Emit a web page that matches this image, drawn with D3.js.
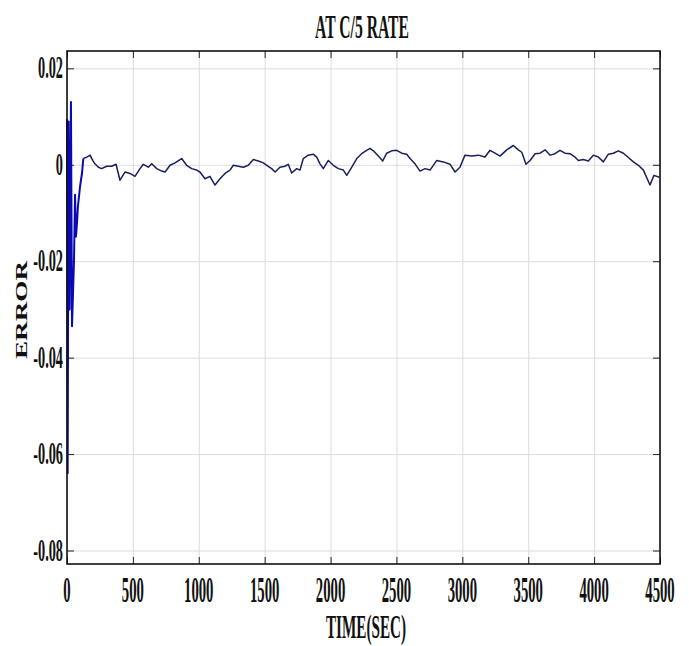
<!DOCTYPE html>
<html>
<head>
<meta charset="utf-8">
<script src="https://cdn.jsdelivr.net/npm/d3@7"></script>
<style>
  body { margin: 0; background: #fff; }
  svg { display: block; }
  text { font-family: "Liberation Serif", "Times New Roman", serif; font-weight: bold; fill: #111; }
</style>
</head>
<body>
<div id="chart"></div>
<script>
// tick labels
var xTicks = [0, 500, 1000, 1500, 2000, 2500, 3000, 3500, 4000, 4500];
var yTicks = [0.02, 0, -0.02, -0.04, -0.06, -0.08];
var yTickLabels = ["0.02", "0", "-0.02", "-0.04", "-0.06", "-0.08"];

// start-up transient (sec, error)
var tStart = [0, 5, 12, 20, 30, 38, 53, 61, 68, 76, 83, 99, 114, 124];
var eStart = [0.0095, -0.064, 0.009, -0.030, 0.013, -0.0335, -0.020, -0.0062, -0.0149, -0.012, -0.0086, -0.0045, -0.0017, 0.0013];

// settled error (sec, error)
var tRun = [124, 150, 175, 195, 212, 238, 263, 301, 339, 372, 402, 440, 478, 516, 554, 579, 617, 643, 681, 719,
  744, 782, 820, 870, 908, 946, 984, 1009, 1047, 1085, 1123, 1161, 1199, 1237, 1262, 1300, 1338, 1376, 1414, 1452,
  1490, 1516, 1553, 1579, 1616, 1654, 1679, 1705, 1743, 1768, 1793, 1831, 1869, 1895, 1920, 1945, 1983, 2021, 2059, 2097,
  2123, 2161, 2199, 2236, 2274, 2300, 2325, 2363, 2396, 2426, 2464, 2502, 2540, 2578, 2603, 2641, 2679, 2717, 2755, 2806,
  2856, 2907, 2945, 2982, 3020, 3071, 3121, 3172, 3210, 3248, 3286, 3337, 3387, 3425, 3451, 3483, 3514, 3552, 3590, 3628,
  3666, 3703, 3741, 3779, 3817, 3855, 3880, 3918, 3956, 3994, 4032, 4070, 4108, 4146, 4184, 4222, 4260, 4298, 4336, 4374,
  4424, 4454, 4495];
var eRun = [0.0013, 0.0016, 0.0020, 0.0009, 0.0002, -0.0005, -0.0008, -0.0003, -0.0003, 0.0001, -0.0032, -0.0015, -0.0018, -0.0024, -0.0008, 0.0001, -0.0005, 0.0002, -0.0008, -0.0013,
  -0.0015, -0.0001, 0.0004, 0.0013, -0.0001, -0.0008, -0.0011, -0.0015, -0.0029, -0.0024, -0.0042, -0.0029, -0.0018, -0.0011, -0.0001, -0.0003, -0.0005, -0.0001, 0.0011, 0.0008,
  0.0004, -0.0001, -0.0008, -0.0015, -0.0005, -0.0003, 0.0001, -0.0017, -0.0008, -0.0011, 0.0013, 0.0020, 0.0022, 0.0016, 0.0002, -0.0008, 0.0009, -0.0001, -0.0008, -0.0011,
  -0.0022, -0.0005, 0.0013, 0.0023, 0.0030, 0.0034, 0.0029, 0.0018, 0.0008, 0.0024, 0.0029, 0.0030, 0.0024, 0.0022, 0.0013, 0.0002, -0.0013, -0.0008, -0.0011, 0.0009,
  0.0006, 0.0001, -0.0015, -0.0005, 0.0020, 0.0018, 0.0020, 0.0016, 0.0030, 0.0024, 0.0018, 0.0031, 0.0040, 0.0031, 0.0026, 0.0001, 0.0009, 0.0023, 0.0024, 0.0031,
  0.0020, 0.0023, 0.0030, 0.0024, 0.0023, 0.0016, 0.0009, 0.0011, 0.0008, 0.0020, 0.0016, 0.0006, 0.0022, 0.0024, 0.0029, 0.0024, 0.0015, 0.0006, -0.0001, -0.0011,
  -0.0042, -0.0022, -0.0026];

var W = 689, H = 646;
var margin = { top: 51, right: 29, bottom: 82, left: 67 },
  width = W - margin.left - margin.right,
  height = H - margin.top - margin.bottom;
var SQ = 0.46; // horizontal squeeze of the lettering

var svg = d3.select("#chart").append("svg")
  .attr("width", W)
  .attr("height", H);

var g = svg.append("g")
  .attr("transform", "translate(" + margin.left + "," + margin.top + ")");

var x = d3.scaleLinear().domain([0, 4500]).range([0, width]);
var y = d3.scaleLinear().domain([-0.0828, 0.0236]).range([height, 0]);

// grid
g.append("g")
  .attr("transform", "translate(0," + height + ")")
  .call(d3.axisBottom(x).tickValues(xTicks).tickSize(-height).tickFormat(""))
  .call(function(s) { s.select(".domain").remove(); })
  .selectAll("line").attr("stroke", "#dcdcdc");
g.append("g")
  .call(d3.axisLeft(y).tickValues(yTicks).tickSize(-width).tickFormat(""))
  .call(function(s) { s.select(".domain").remove(); })
  .selectAll("line").attr("stroke", "#dcdcdc");

// inward tick marks on all four sides
var tk = 7;
g.append("g").attr("transform", "translate(0," + height + ")")
  .call(d3.axisBottom(x).tickValues(xTicks).tickSize(-tk).tickFormat(""))
  .call(function(s) { s.select(".domain").remove(); })
  .selectAll("line").attr("stroke", "#222");
g.append("g")
  .call(d3.axisTop(x).tickValues(xTicks).tickSize(-tk).tickFormat(""))
  .call(function(s) { s.select(".domain").remove(); })
  .selectAll("line").attr("stroke", "#222");
g.append("g")
  .call(d3.axisLeft(y).tickValues(yTicks).tickSize(-tk).tickFormat(""))
  .call(function(s) { s.select(".domain").remove(); })
  .selectAll("line").attr("stroke", "#222");
g.append("g").attr("transform", "translate(" + width + ",0)")
  .call(d3.axisRight(y).tickValues(yTicks).tickSize(-tk).tickFormat(""))
  .call(function(s) { s.select(".domain").remove(); })
  .selectAll("line").attr("stroke", "#222");

// data lines
var line = d3.line()
  .x(function(d) { return x(d[0]); })
  .y(function(d) { return y(d[1]); });

var runData = tRun.map(function(t, i) { return [t, eRun[i]]; });
var startData = tStart.map(function(t, i) { return [t, eStart[i]]; });

g.append("path")
  .datum(runData)
  .attr("fill", "none")
  .attr("stroke", "#1b1f5e")
  .attr("stroke-width", 1.5)
  .attr("stroke-linejoin", "round")
  .attr("d", line);

g.append("path")
  .datum(startData)
  .attr("fill", "none")
  .attr("stroke", "#0a0ab4")
  .attr("stroke-width", 2)
  .attr("stroke-linejoin", "round")
  .attr("d", line);

// frame
g.append("rect")
  .attr("width", width)
  .attr("height", height)
  .attr("fill", "none")
  .attr("stroke", "#111")
  .attr("stroke-width", 1.6);

// tick labels
xTicks.forEach(function(v) {
  g.append("text")
    .attr("transform", "translate(" + x(v) + "," + (height + 38) + ") scale(0.42,1)")
    .attr("text-anchor", "middle")
    .style("font-size", "35px")
    .text(v);
});
yTicks.forEach(function(v, i) {
  g.append("text")
    .attr("transform", "translate(-4," + (y(v) + 10) + ") scale(" + SQ + ",1)")
    .attr("text-anchor", "end")
    .style("font-size", "31px")
    .text(yTickLabels[i]);
});

// title and axis labels
svg.append("text")
  .attr("transform", "translate(362,38) scale(" + SQ + ",1)")
  .attr("text-anchor", "middle")
  .style("font-size", "34px")
  .text("AT C/5 RATE");

svg.append("text")
  .attr("transform", "translate(366,638) scale(" + SQ + ",1)")
  .attr("text-anchor", "middle")
  .style("font-size", "33px")
  .text("TIME(SEC)");

svg.append("text")
  .attr("transform", "translate(27,310) rotate(-90) scale(1.6,1)")
  .attr("text-anchor", "middle")
  .style("font-size", "17px")
  .text("ERROR");
</script>
</body>
</html>
